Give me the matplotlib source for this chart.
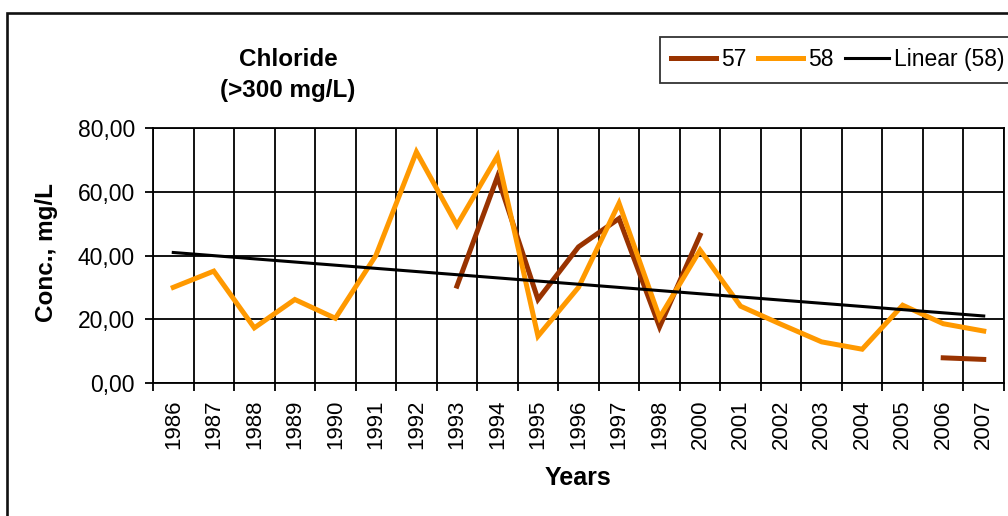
import numpy as np
import matplotlib
matplotlib.use("Agg")
import matplotlib.pyplot as plt
from matplotlib.patches import Rectangle
from matplotlib.lines import Line2D

plt.rcParams['font.family'] = ['Liberation Sans', 'DejaVu Sans']

years = ["1986", "1987", "1988", "1989", "1990", "1991", "1992", "1993", "1994",
         "1995", "1996", "1997", "1998", "2000", "2001", "2002", "2003", "2004",
         "2005", "2006", "2007"]
s57 = [np.nan, np.nan, np.nan, np.nan, np.nan, np.nan, np.nan, 30.4, 64.7,
       26.2, 42.7, 51.6, 17.6, 46.4, np.nan, np.nan, np.nan, np.nan,
       np.nan, 7.9, 7.4]
s58 = [30.0, 35.1, 17.3, 26.2, 20.3, 40.0, 72.5, 49.5, 71.2,
       14.7, 30.0, 56.4, 20.5, 41.7, 24.1, 18.4, 12.9, 10.6,
       24.4, 18.6, 16.3]
yticks = [0, 20, 40, 60, 80]
ytick_labels = ["0,00", "20,00", "40,00", "60,00", "80,00"]

W, H = 1008, 516
fig = plt.figure(figsize=(W / 100, H / 100), dpi=100)
fig.patch.set_facecolor("white")

# outer chart border (cut off at right and bottom)
fig.patches.append(Rectangle((6.5 / W, -0.5), 2.0, (1 - 12.5 / H) + 0.5,
                             transform=fig.transFigure, fill=False,
                             edgecolor="#111111", linewidth=1.9, zorder=0))

ax = fig.add_axes([153 / W, 1 - 383 / H, 851 / W, 255 / H])
x = np.arange(len(years))

ax.plot(x, s57, color="#993300", linewidth=3.6, solid_joinstyle="miter", zorder=3)
ax.plot(x, s58, color="#FF9900", linewidth=3.6, solid_joinstyle="miter", zorder=4)
coef = np.polyfit(x + 1, np.array(s58), 1)
trend = np.polyval(coef, x + 1)
ax.plot(x, trend, color="black", linewidth=2.2, zorder=5)

ax.set_xlim(-0.5, len(years) - 0.5)
ax.set_ylim(0, 80)
ax.set_xticks(np.arange(len(years) + 1) - 0.5)
ax.set_xticklabels([])
ax.set_xticks(x, minor=True)
ax.set_xticklabels(years, minor=True, rotation=90, fontsize=16)
ax.tick_params(axis="x", which="major", direction="out", length=6, width=1.3)
ax.tick_params(axis="x", which="minor", length=0, pad=12)
ax.set_yticks(yticks)
ax.set_yticklabels(ytick_labels, fontsize=16.5)
ax.tick_params(axis="y", direction="out", length=6, width=1.3, pad=7)
ax.grid(True, which="major", color="black", linewidth=1.3)
ax.set_axisbelow(True)
for sp in ax.spines.values():
    sp.set_linewidth(1.3)
    sp.set_color("black")

fig.text(288 / W, 1 - 60 / H, "Chloride", ha="center", va="center",
         fontsize=17.5, fontweight="bold")
fig.text(288 / W, 1 - 90 / H, "(>300 mg/L)", ha="center", va="center",
         fontsize=17.5, fontweight="bold")
fig.text(47 / W, 1 - 253 / H, "Conc., mg/L", ha="center", va="center",
         rotation=90, fontsize=17.5, fontweight="bold")
fig.text(578 / W, 1 - 478 / H, "Years", ha="center", va="center",
         fontsize=18, fontweight="bold")

handles = [Line2D([], [], color="#993300", linewidth=3.6),
           Line2D([], [], color="#FF9900", linewidth=3.6),
           Line2D([], [], color="black", linewidth=2.2)]
leg = fig.legend(handles, ["57", "58", "Linear (58)"], ncol=3,
                 loc="upper left", bbox_to_anchor=(660 / W, 1 - 37 / H),
                 fontsize=16.5, frameon=True, fancybox=False, edgecolor="black",
                 handlelength=1.95, handletextpad=0.22, columnspacing=0.5,
                 borderpad=0.5, borderaxespad=0)
leg.get_frame().set_linewidth(1.3)

fig.savefig("out.png", dpi=100)
